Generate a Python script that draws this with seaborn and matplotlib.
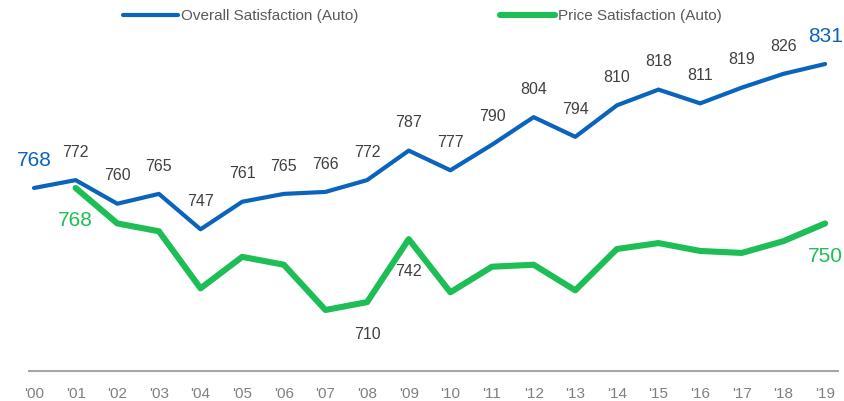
import pandas as pd
import seaborn as sns
import matplotlib.pyplot as plt

years = ["'00", "'01", "'02", "'03", "'04", "'05", "'06", "'07", "'08", "'09",
         "'10", "'11", "'12", "'13", "'14", "'15", "'16", "'17", "'18", "'19"]
overall = [768, 772, 760, 765, 747, 761, 765, 766, 772, 787,
           777, 790, 804, 794, 810, 818, 811, 819, 826, 831]
# price satisfaction starts in 2001; only a few points carry labels
price_years = years[1:]
price = [768, 750, 746, 717, 733, 729, 706, 710, 742, 715,
         728, 729, 716, 737, 740, 736, 735, 741, 750]
price_labels = {"'01": 768, "'08": 710, "'09": 742, "'19": 750}

BLUE = '#0A64BE'
GREEN = '#1DBE55'
GREY_TXT = '#404040'

sns.set_style('white')
plt.rcParams['font.family'] = ['Liberation Sans', 'DejaVu Sans']

df_o = pd.DataFrame({'x': range(len(years)), 'v': overall})
df_p = pd.DataFrame({'x': range(1, len(years)), 'v': price})

fig = plt.figure(figsize=(8.45, 4.01), dpi=100)
ax = fig.add_axes([29 / 845, 30 / 401, 809 / 845, 331 / 401])

sns.lineplot(data=df_o, x='x', y='v', ax=ax, color=BLUE, linewidth=3.0,
             label='Overall Satisfaction (Auto)')
sns.lineplot(data=df_p, x='x', y='v', ax=ax, color=GREEN, linewidth=4.4,
             label='Price Satisfaction (Auto)')

ax.set_xlim(-0.12, 19.31)
ax.set_ylim(675.0, 843.2)

# labels for the overall line
for i, v in enumerate(overall):
    big = i in (0, len(overall) - 1)
    ax.annotate(str(v), (i, v), xytext=(0, 20), textcoords='offset points',
                ha='center', va='center',
                fontsize=15 if big else 11.5,
                color=BLUE if big else GREY_TXT)

# labels for the price line
for lab, v in price_labels.items():
    i = years.index(lab)
    big = lab in ("'01", "'19")
    ax.annotate(str(v), (i, price[i - 1]), xytext=(0, -23.5),
                textcoords='offset points', ha='center', va='center',
                fontsize=15 if big else 11.5,
                color=GREEN if big else GREY_TXT)

ax.set_xticks(range(len(years)))
ax.set_xticklabels(years)
ax.set_yticks([])
ax.set_xlabel('')
ax.set_ylabel('')
ax.tick_params(axis='x', length=0, pad=11.5, labelsize=11, labelcolor='#808080')
for s in ['top', 'right', 'left']:
    ax.spines[s].set_visible(False)
ax.spines['bottom'].set_color('#A6A6A6')
ax.spines['bottom'].set_linewidth(1.5)

ax.get_legend().remove()
h, l = ax.get_legend_handles_labels()
fig.legend(h, l, loc='center', bbox_to_anchor=(0.5, 0.96), ncol=2,
           frameon=False, fontsize=11, handlelength=3.6, handletextpad=0.2,
           columnspacing=9.3, labelcolor='#595959')

fig.savefig('out.png', dpi=100)
